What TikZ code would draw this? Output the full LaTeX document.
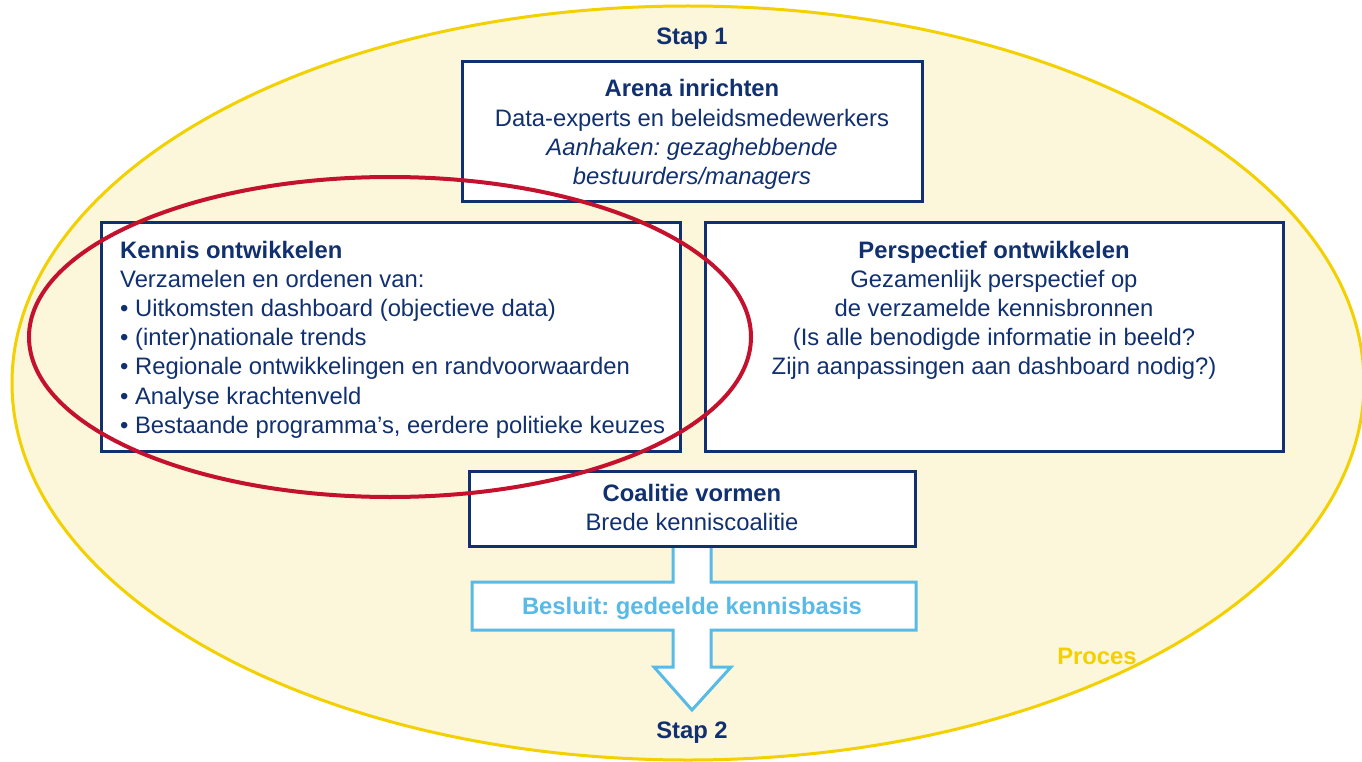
\documentclass[tikz,border=0pt]{standalone}
\usepackage{fontspec}
\setmainfont{Liberation Sans}
\frenchspacing
\definecolor{navy}{HTML}{10306F}
\definecolor{skyblue}{HTML}{58BAE6}
\definecolor{procline}{HTML}{F3D000}
\definecolor{procfill}{HTML}{FCF6DA}
\definecolor{focusred}{HTML}{C3112E}
\tikzset{
  stagebox/.style={draw=navy, line width=3pt, fill=white, rectangle, inner sep=0pt, outer sep=0pt},
  bodytext/.style={text=navy, inner sep=0pt, anchor=base, font=\fontsize{23.8}{29}\selectfont},
  headtext/.style={text=navy, inner sep=0pt, anchor=base, font=\fontsize{23.8}{29}\selectfont\bfseries},
}
\newcommand{\lines}[2]{\parbox[t]{#1}{\baselineskip=29.2pt #2}}
\begin{document}
\begin{tikzpicture}[x=1pt,y=-1pt]
\useasboundingbox (0,0) rectangle (1362,762);
\fill[white] (0,0) rectangle (1362,762);

% process area
\draw[draw=procline, line width=3pt, fill=procfill] (688,383) ellipse [x radius=676, y radius=377];
\node[headtext, text=procline] (proces) at (1097,664) {Proces};
\node[headtext] (stap1) at (692,45) {Stap 1};
\node[headtext] (stap2) at (692,738) {Stap 2};

% decision arrow
\draw[draw=skyblue, line width=3pt, fill=white, line join=miter]
  (673,540) -- (673,582) -- (472,582) -- (472,630) -- (673,630) -- (673,667)
  -- (654,667) -- (692,710) -- (731,667) -- (711,667) -- (711,630)
  -- (916,630) -- (916,582) -- (711,582) -- (711,540) -- cycle;
\coordinate (besluit) at (692,606);
\node[headtext, text=skyblue] (besluittext) at ([yshift=-8.5pt]besluit) {Besluit: gedeelde kennisbasis};

% stages
\node[stagebox, minimum width=460pt, minimum height=140pt] (arena) at (692,132) {};
\node[bodytext] (arenatext) at (692,97) {\lines{460pt}{\centering
  \textbf{Arena inrichten}\\
  Data-experts en beleidsmedewerkers\\
  \textit{Aanhaken: gezaghebbende}\\
  \textit{bestuurders/managers}}};

\node[stagebox, minimum width=579pt, minimum height=229pt] (kennis) at (390.5,336.5) {};
\node[bodytext, anchor=base west] (kennistext) at (120,258) {\lines{556pt}{\raggedright
  \textbf{Kennis ontwikkelen}\\
  Verzamelen en ordenen van:\\
  • Uitkomsten dashboard (objectieve data)\\
  • (inter)nationale trends\\
  • Regionale ontwikkelingen en randvoorwaarden\\
  • Analyse krachtenveld\\
  • Bestaande programma’s, eerdere politieke keuzes}};

\node[stagebox, minimum width=578pt, minimum height=229pt] (perspectief) at (994,336.5) {};
\node[bodytext] (perspectieftext) at (994,258) {\lines{578pt}{\centering
  \textbf{Perspectief ontwikkelen}\\
  Gezamenlijk perspectief op\\
  de verzamelde kennisbronnen\\
  (Is alle benodigde informatie in beeld?\\
  Zijn aanpassingen aan dashboard nodig?)}};

\node[stagebox, minimum width=446pt, minimum height=75pt] (coalitie) at (692,508.5) {};
\node[bodytext] (coalitietext) at (692,501) {\lines{446pt}{\centering
  \textbf{Coalitie vormen}\\
  Brede kenniscoalitie}};

% focus ring around knowledge development
\draw[draw=focusred, line width=4pt] (390,337) ellipse [x radius=361, y radius=160];
\end{tikzpicture}
\end{document}
